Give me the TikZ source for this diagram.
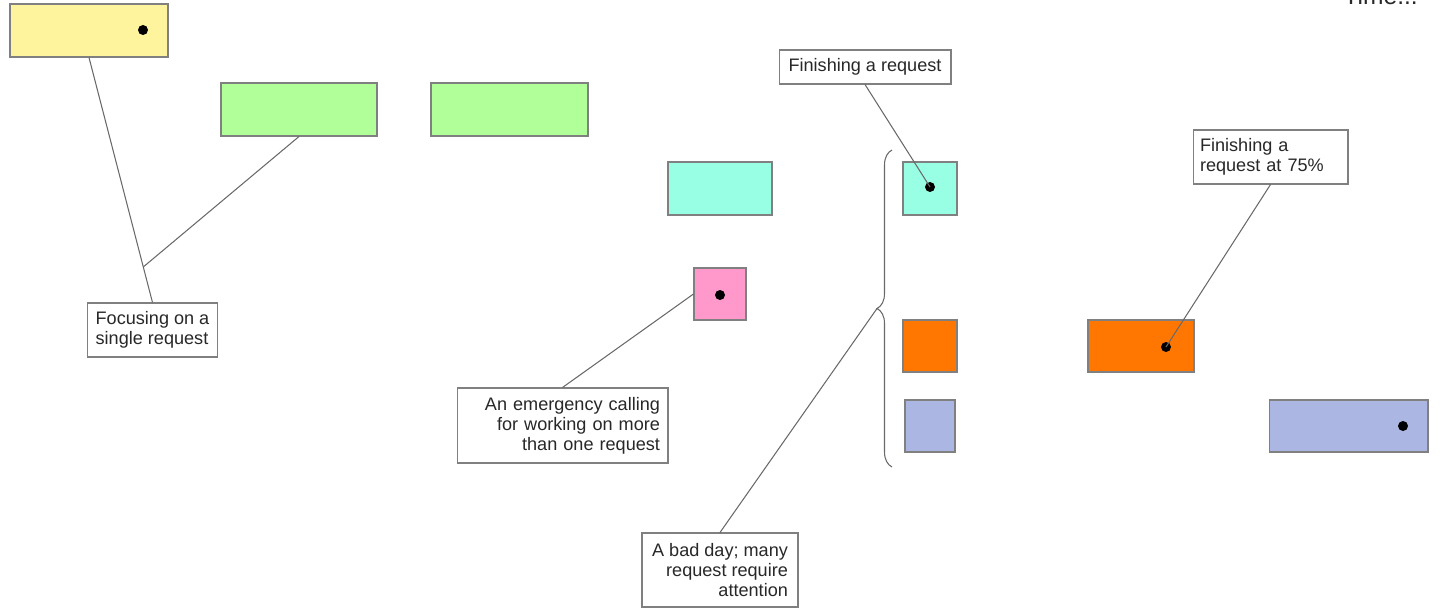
\documentclass[tikz,border=0pt]{standalone}
\usepackage{fontspec}
\setmainfont{Liberation Sans}
\usepackage{xcolor}
\definecolor{reqyellow}{RGB}{255,244,158}
\definecolor{reqgreen}{RGB}{176,255,152}
\definecolor{reqcyan}{RGB}{153,255,228}
\definecolor{reqpink}{RGB}{255,153,204}
\definecolor{reqorange}{RGB}{255,119,0}
\definecolor{reqblue}{RGB}{171,182,226}
\definecolor{boxgray}{RGB}{128,128,128}
\definecolor{linegray}{RGB}{105,105,105}
\definecolor{textgray}{RGB}{40,40,40}
\usetikzlibrary{decorations.pathreplacing}
\usetikzlibrary{calc}

\begin{document}
\begin{tikzpicture}[x=0.02cm, y=-0.02cm,
  reqbox/.style={draw=boxgray, line width=0.6pt, inner sep=0pt},
  reqdot/.style={circle, fill=black, minimum size=0.2cm, inner sep=0pt},
  notebox/.style={draw=boxgray, fill=white, line width=0.6pt, inner xsep=0.16cm, inner ysep=0pt,
    text=textgray, font=\fontsize{10.3}{11.4}\selectfont},
  callout/.style={draw=linegray, line width=0.6pt}]

\useasboundingbox (0,0) rectangle (1453,611);

% Time axis label
  \node[anchor=base east, text=textgray, font=\fontsize{14}{16}\selectfont] (time) at (1424,5) {Time...};

% Single request
  \node[reqbox, fill=reqyellow, minimum width=3.16cm, minimum height=1.06cm] (yellow) at (89,30.5) {};
  \node[reqdot] (ydot) at (143,30) {};
  \node[reqbox, fill=reqgreen, minimum width=3.12cm, minimum height=1.06cm] (green1) at (299,109.5) {};
  \node[reqbox, fill=reqgreen, minimum width=3.14cm, minimum height=1.06cm] (green2) at (509.5,109.5) {};

% Emergency
  \node[reqbox, fill=reqcyan, minimum width=2.08cm, minimum height=1.06cm] (cyan1) at (720,188.5) {};
  \node[reqbox, fill=reqpink, minimum width=1.04cm, minimum height=1.04cm] (pink) at (720,294) {};
  \node[reqdot] (pdot) at (720,295) {};

% Bad day
  \node[reqbox, fill=reqcyan, minimum width=1.08cm, minimum height=1.06cm] (cyan2) at (930,188.5) {};
  \node[reqdot] (cdot) at (930,187) {};
  \node[reqbox, fill=reqorange, minimum width=1.08cm, minimum height=1.04cm] (orange1) at (930,346) {};
  \node[reqbox, fill=reqblue, minimum width=1.0cm, minimum height=1.04cm] (blue1) at (930,426) {};
  \draw[draw=linegray, line width=0.6pt, decorate, decoration={brace, amplitude=0.3cm}] (892,467) -- (892,150);
  \coordinate (tip) at (877,308.5);

% Later requests
  \node[reqbox, fill=reqorange, minimum width=2.12cm, minimum height=1.04cm] (orange2) at (1141,346) {};
  \node[reqdot] (odot) at (1166,347) {};
  \node[reqbox, fill=reqblue, minimum width=3.18cm, minimum height=1.04cm] (blue2) at (1348.5,426) {};
  \node[reqdot] (bdot) at (1403,426) {};

% Notes
  \node[notebox, minimum width=2.58cm, minimum height=1.08cm, align=left] (focus) at (152.5,330) {Focusing on a\\single request};
  \node[notebox, text width=3.9cm, minimum height=1.5cm, align=right] (emerg) at (562.5,425.5) {An emergency calling\\for working on more\\than one request};
  \node[notebox, minimum width=3.44cm, minimum height=0.68cm] (fin) at (865,67) {Finishing a request};
  \node[notebox, inner xsep=0.14cm, text width=2.82cm, minimum height=1.08cm, align=left] (fin75) at (1270.5,157) {Finishing a\\request at 75\%};
  \node[notebox, minimum width=3.12cm, minimum height=1.48cm, align=right] (badday) at (720,570) {A bad day; many\\request require\\attention};

% Callouts
  \draw[callout] (yellow.south) -- (focus.north) coordinate[pos=0.855] (join);
  \draw[callout] (green1.south) -- (join);
  \draw[callout] (emerg.north) -- (pink.west);
  \draw[callout] (fin.south) -- (cdot.center);
  \draw[callout] (fin75.south) -- (odot.center);
  \draw[callout] (badday.north) -- (tip);

\end{tikzpicture}
\end{document}
